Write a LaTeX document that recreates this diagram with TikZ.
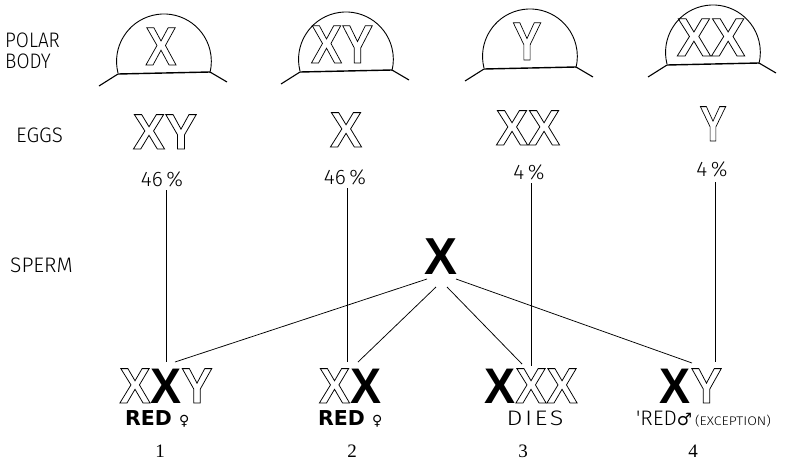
\documentclass[tikz,border=0pt]{standalone}
\usepackage{fontspec}
\usepackage{graphicx}
\setmainfont{Liberation Sans}
\newfontfamily\chromfont{Liberation Sans Bold}
\newfontfamily\thinfont{Fira Sans Light}
\newfontfamily\boldlab{DejaVu Sans Bold}
\newfontfamily\symfont{DejaVu Sans}
\newfontfamily\numfont{Liberation Serif}
\newcommand\hol[1]{\special{pdf:literal direct 1 Tr 0.8 w}#1\special{pdf:literal direct 0 Tr}}
\newcommand\sol[1]{#1}
\newcommand\polarbody[2]{%
  \draw[domeline] ({#1-46},#2) arc[start angle=165.8,end angle=374.2,radius=47.4];
  \draw[floorline] ({#1-46},{#2+1}) -- ({#1+46},{#2-1});
  \draw[legline] ({#1-46},{#2+1}) -- ++(-19,12);
  \draw[legline] ({#1+46},{#2-1}) -- ++(17,10);
}
\begin{document}
\begin{tikzpicture}[x=1pt,y=-1pt,
  link/.style={line width=0.75pt},
  domeline/.style={line width=0.9pt},
  floorline/.style={line width=1.4pt},
  legline/.style={line width=1.1pt},
  chrom/.style={inner sep=0pt, anchor=base},
  polarrow/.style={chrom, font={\chromfont\fontsize{54}{54}\selectfont}},
  eggrow/.style={chrom, font={\chromfont\fontsize{50}{50}\selectfont}},
  botrow/.style={chrom, font={\chromfont\fontsize{50}{50}\selectfont}},
  thinlab/.style={inner sep=0pt, font={\thinfont\fontsize{21}{21}\selectfont}},
  pct/.style={inner sep=0pt, anchor=base, font={\thinfont\fontsize{21}{21}\selectfont}},
  numlab/.style={inner sep=0pt, anchor=base, font={\numfont\fontsize{19}{19}\selectfont}}
]
\useasboundingbox (0,0) rectangle (792,472);

% row labels
\node[thinlab, anchor=base west] (polar) at (5,47) {\scalebox{0.9}[1]{POLAR}};
\node[thinlab, anchor=base west] (body) at (5,68) {\scalebox{0.9}[1]{BODY}};
\node[thinlab, anchor=base west] (eggs) at (16,142) {\scalebox{0.98}[1]{EGGS}};
\node[thinlab, anchor=base west] (sperm) at (10,272) {\scalebox{1.0}[1]{SPERM}};

% polar bodies
\polarbody{164}{73}
\polarbody{346}{71}
\polarbody{530}{68}
\polarbody{713}{64}
\node[polarrow] (pb1) at (161,65) {\scalebox{0.86}[1]{\hol{X}}};
\node[polarrow] (pb2) at (342,63) {\scalebox{0.86}[1]{\hol{XY}}};
\node[polarrow] (pb3) at (527,60) {\scalebox{0.8}[1]{\hol{Y}}};
\node[polarrow] (pb4) at (711,56) {\scalebox{0.95}[1]{\hol{XX}}};

% eggs
\node[eggrow] (egg1) at (165,149) {\scalebox{0.96}[1]{\hol{XY}}};
\node[eggrow] (egg2) at (346,147) {\scalebox{0.96}[1]{\hol{X}}};
\node[eggrow] (egg3) at (528,145) {\scalebox{0.96}[1]{\hol{XX}}};
\node[eggrow] (egg4) at (713,141) {\scalebox{0.8}[1]{\hol{Y}}};

% percentages
\node[pct] (p1) at (162,186) {46\,\%};
\node[pct] (p2) at (345,184) {46\,\%};
\node[pct] (p3) at (529,179) {4\,\%};
\node[pct] (p4) at (712,176) {4\,\%};

% sperm
\node[chrom, font={\chromfont\fontsize{52}{52}\selectfont}] (sp) at (441,274) {\scalebox{0.95}[1]{\sol{X}}};

% offspring
\node[botrow] (o1) at (166,403) {\scalebox{0.93}[1]{\hol{X}\sol{X}\hol{Y}}};
\node[botrow] (o2) at (350,403) {\scalebox{0.93}[1]{\hol{X}\sol{X}}};
\node[botrow] (o3) at (531,403) {\scalebox{0.93}[1]{\sol{X}\hol{XX}}};
\node[botrow] (o4) at (691,403) {\scalebox{0.93}[1]{\sol{X}\hol{Y}}};

% offspring labels
\node[inner sep=0pt, anchor=base west] (r1) at (125,425) {\boldlab\fontsize{20.5}{20}\selectfont RED\hspace{7pt}\symfont\fontsize{14}{14}\selectfont ♀};
\node[inner sep=0pt, anchor=base west] (r2) at (318,425) {\boldlab\fontsize{20.5}{20}\selectfont RED\hspace{7pt}\symfont\fontsize{14}{14}\selectfont ♀};
\node[thinlab, anchor=base] (r3) at (535,425) {\scalebox{1.2}[1]{\addfontfeatures{LetterSpace=10}DIES}};
\node[inner sep=0pt, anchor=base west] (r4) at (636,425) {\thinfont\fontsize{21}{21}\selectfont 'RED\symfont\fontsize{17}{17}\selectfont ♂\thinfont\fontsize{12.5}{12}\selectfont\hspace{3pt}\scalebox{1.12}[1]{(EXCEPTION)}};

\node[numlab] (n1) at (160,457) {1};
\node[numlab] (n2) at (352,457) {2};
\node[numlab] (n3) at (523,457) {3};
\node[numlab] (n4) at (693,457) {4};

% connector end points
\coordinate (v1a) at (166,190); \coordinate (v1b) at (166,362);
\coordinate (v2a) at (347,188); \coordinate (v2b) at (347,362);
\coordinate (v3a) at (531,183); \coordinate (v3b) at (531,366);
\coordinate (v4a) at (715,182); \coordinate (v4b) at (715,362);
\coordinate (s1) at (427,279); \coordinate (s2) at (436,287);
\coordinate (s3) at (447,287); \coordinate (s4) at (456,279);
\coordinate (e1) at (175,362); \coordinate (e2) at (358,362);
\coordinate (e3) at (522,364); \coordinate (e4) at (692,363);

\draw[link] (v1a) -- (v1b);
\draw[link] (v2a) -- (v2b);
\draw[link] (v3a) -- (v3b);
\draw[link] (v4a) -- (v4b);
\draw[link] (s1) -- (e1);
\draw[link] (s2) -- (e2);
\draw[link] (s3) -- (e3);
\draw[link] (s4) -- (e4);
\end{tikzpicture}
\end{document}
